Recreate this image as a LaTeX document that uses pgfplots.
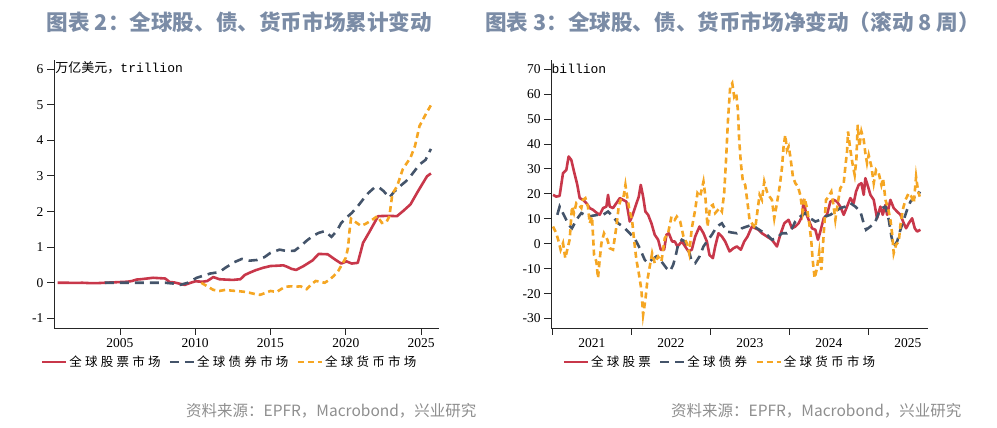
\documentclass[border=0pt]{standalone}
\usepackage{fontspec}
\setmainfont{Liberation Serif}
\setmonofont{Liberation Mono}
\newfontfamily\cjk{Noto Sans CJK SC}
\newfontfamily\cjkwide[LetterSpace=26]{Noto Sans CJK SC}
\usepackage{pgfplots}
\pgfplotsset{compat=1.18}
\definecolor{eqred}{HTML}{C8374A}
\definecolor{bdblue}{HTML}{44546A}
\definecolor{mmorange}{HTML}{F5A623}
\definecolor{titlec}{HTML}{7B8CA6}
\definecolor{srcgray}{HTML}{8E8E8E}
\pgfplotsset{
  myaxis/.style={
    scale only axis,
    axis lines*=left,
    axis line style={black!85, line width=0.9pt, -},
    tick align=outside,
    major tick length=7pt,
    tick style={black!85, line width=0.9pt},
    ticklabel style={font=\fontsize{13.5}{14}\selectfont},
    /pgf/number format/assume math mode=true,
    /pgf/number format/1000 sep={},
    clip=false,
    legend columns=3,
    legend cell align=left,
    legend style={draw=none, fill=none, inner sep=0pt, anchor=west,
      font=\cjkwide\fontsize{12.5}{13}\selectfont,
      /tikz/every even column/.append style={column sep=6pt}},
    legend image code/.code={\draw[##1] (0pt,0pt) -- (24pt,0pt);},
  },
  eq/.style={eqred, line width=2.6pt, line join=round},
  bd/.style={bdblue, line width=2.6pt, dash pattern=on 9pt off 6pt},
  mm/.style={mmorange, line width=2.6pt, dash pattern=on 6pt off 4pt},
}
\begin{document}
\begin{tikzpicture}
\useasboundingbox (0pt,0pt) rectangle (997pt,428pt);
% titles
\node[font=\cjk\bfseries\fontsize{21.6}{23}\selectfont, text=titlec] at (239.5pt,406pt) {图表 2：全球股、债、货币市场累计变动};
\node[font=\cjk\bfseries\fontsize{21.6}{23}\selectfont, text=titlec] at (732.5pt,406pt) {图表 3：全球股、债、货币市场净变动（滚动 8 周）};
% sources
\node[font=\cjk\fontsize{15.5}{16}\selectfont, text=srcgray, anchor=east] at (480pt,17pt) {资料来源：EPFR，Macrobond，兴业研究};
\node[font=\cjk\fontsize{15.5}{16}\selectfont, text=srcgray, anchor=east] at (965pt,17pt) {资料来源：EPFR，Macrobond，兴业研究};

% ---------- left panel ----------
\begin{axis}[myaxis, at={(54pt,100pt)}, anchor=south west,
  width=385pt, height=268pt,
  xmin=2000.615, xmax=2026.196, ymin=-1.27, ymax=6.255,
  xtick={2005,2010,2015,2020,2025},
  ytick={-1,0,1,2,3,4,5,6},
  legend style={at={(-0.035,-0.127)}},
]
\addplot[eq] coordinates {(2000.85,0)(2001.5,0)(2002,-0.005)(2002.5,0)(2003,-0.01)(2003.5,-0.01)(2004,0)(2004.5,0.01)(2005,0.02)(2005.5,0.03)(2005.8,0.05)(2006.1,0.09)(2006.4,0.1)(2006.8,0.12)(2007.2,0.14)(2007.6,0.13)(2008.0,0.12)(2008.3,0.02)(2008.6,0.01)(2009.0,-0.03)(2009.3,-0.06)(2009.7,0.0)(2010.0,0.04)(2010.5,0.03)(2010.8,0.05)(2011.2,0.16)(2011.6,0.1)(2012.0,0.09)(2012.5,0.08)(2013.0,0.1)(2013.3,0.22)(2013.6,0.28)(2014.0,0.35)(2014.5,0.42)(2015.0,0.47)(2015.5,0.48)(2015.85,0.49)(2016.1,0.45)(2016.4,0.39)(2016.7,0.36)(2017.2,0.47)(2017.8,0.63)(2018.2,0.81)(2018.8,0.80)(2019.3,0.65)(2019.7,0.54)(2020.05,0.60)(2020.4,0.54)(2020.8,0.56)(2021.15,1.12)(2021.6,1.45)(2022.15,1.87)(2022.8,1.88)(2023.4,1.87)(2023.8,2.01)(2024.3,2.20)(2024.8,2.57)(2025.4,2.99)(2025.66,3.07)};
\addlegendentry{全球股票市场}
\addplot[bd] coordinates {(2004.0,0)(2005,0)(2006,0)(2007,0)(2008,0)(2008.5,-0.02)(2009,-0.06)(2009.5,0.0)(2010.1,0.14)(2011,0.26)(2011.6,0.30)(2012,0.42)(2012.6,0.58)(2013.1,0.67)(2013.6,0.62)(2014.1,0.64)(2014.6,0.72)(2015,0.84)(2015.6,0.93)(2016.1,0.89)(2016.6,0.90)(2017.0,1.03)(2017.4,1.18)(2017.8,1.31)(2018.2,1.40)(2018.6,1.45)(2019.05,1.29)(2019.4,1.45)(2019.7,1.68)(2020.1,1.85)(2020.4,1.96)(2020.8,2.15)(2021.15,2.34)(2021.5,2.52)(2021.9,2.67)(2022.2,2.68)(2022.5,2.58)(2022.9,2.39)(2023.2,2.55)(2023.6,2.71)(2024.0,2.85)(2024.3,2.99)(2024.9,3.32)(2025.3,3.45)(2025.66,3.76)};
\addlegendentry{全球债券市场}
\addplot[mm] coordinates {(2010.4,0)(2010.8,-0.1)(2011.2,-0.2)(2011.6,-0.23)(2012.0,-0.20)(2012.4,-0.22)(2012.7,-0.23)(2013.2,-0.25)(2013.6,-0.28)(2014.0,-0.32)(2014.3,-0.34)(2014.7,-0.28)(2015.0,-0.23)(2015.4,-0.26)(2015.7,-0.18)(2016.0,-0.11)(2016.4,-0.10)(2016.7,-0.11)(2017.0,-0.10)(2017.4,-0.18)(2017.7,-0.05)(2018.0,0.05)(2018.3,0.03)(2018.6,0.0)(2018.9,0.08)(2019.2,0.19)(2019.5,0.33)(2019.8,0.55)(2020.0,0.70)(2020.15,0.98)(2020.25,1.45)(2020.35,1.80)(2020.6,1.72)(2021.0,1.60)(2021.3,1.65)(2021.7,1.75)(2022.1,1.87)(2022.4,1.68)(2022.7,1.70)(2022.9,1.87)(2023.1,2.50)(2023.4,2.70)(2023.8,3.20)(2024.3,3.51)(2024.6,3.84)(2024.9,4.40)(2025.3,4.72)(2025.65,4.98)};
\addlegendentry{全球货币市场}
\node[anchor=west, inner sep=0pt, font=\fontsize{13}{14}\selectfont] at (axis cs:2000.7,6.03) {\cjk 万亿美元，\ttfamily trillion};
\end{axis}

% ---------- right panel ----------
\begin{axis}[myaxis, at={(551pt,100pt)}, anchor=south west,
  width=376.7pt, height=268pt,
  xmin=2020.984, xmax=2025.752, ymin=-33.8, ymax=73.7,
  xtick={2021,2022,2023,2024,2025},
  xticklabels={},
  extra x ticks={2021.5,2022.5,2023.5,2024.5,2025.5},
  extra x tick labels={2021,2022,2023,2024,2025},
  extra x tick style={tick style={draw=none}},
  ytick={-30,-20,-10,0,10,20,30,40,50,60,70},
  legend style={at={(0.030,-0.127)}},
]
\addplot[eq] coordinates {(2021.009,19.6)(2021.051,18.9)(2021.093,19.2)(2021.136,28.3)(2021.178,29.6)(2021.207,35.0)(2021.241,33.6)(2021.275,29.0)(2021.317,23.6)(2021.347,18.3)(2021.389,17.6)(2021.431,16.3)(2021.474,14.3)(2021.516,13.6)(2021.558,12.5)(2021.600,11.6)(2021.643,14.3)(2021.685,14.9)(2021.706,19.6)(2021.727,14.9)(2021.769,14.3)(2021.812,16.3)(2021.854,18.3)(2021.896,17.6)(2021.938,16.9)(2021.981,8.9)(2022.010,10.9)(2022.052,14.9)(2022.095,18.9)(2022.120,23.6)(2022.150,18.9)(2022.179,12.9)(2022.213,11.6)(2022.255,8.2)(2022.297,3.6)(2022.340,1.6)(2022.373,-2.4)(2022.416,-2.4)(2022.445,3.6)(2022.475,4.2)(2022.517,0.9)(2022.551,0.9)(2022.585,-1.1)(2022.640,0.9)(2022.682,-1.1)(2022.724,-3.1)(2022.766,-2.4)(2022.809,2.9)(2022.864,6.9)(2022.914,4.2)(2022.957,0.9)(2022.990,-4.5)(2023.033,-5.8)(2023.062,-1.1)(2023.104,4.2)(2023.147,2.9)(2023.189,0.9)(2023.244,-3.1)(2023.294,-1.8)(2023.337,-1.1)(2023.387,-2.4)(2023.430,0.9)(2023.472,2.9)(2023.527,6.9)(2023.569,6.2)(2023.611,5.6)(2023.654,4.2)(2023.717,2.9)(2023.780,1.6)(2023.844,-1.1)(2023.886,3.6)(2023.937,8.2)(2023.991,9.6)(2024.034,6.2)(2024.076,6.9)(2024.118,8.2)(2024.161,10.9)(2024.182,17.6)(2024.211,12.3)(2024.245,9.6)(2024.287,6.2)(2024.330,5.6)(2024.363,1.6)(2024.393,4.9)(2024.435,10.2)(2024.477,11.6)(2024.520,16.9)(2024.562,17.6)(2024.604,16.9)(2024.646,14.9)(2024.689,11.6)(2024.731,14.9)(2024.773,18.3)(2024.815,16.3)(2024.845,20.9)(2024.879,23.6)(2024.913,24.3)(2024.942,19.6)(2024.963,26.3)(2024.997,22.9)(2025.027,19.6)(2025.069,17.6)(2025.111,10.2)(2025.153,14.9)(2025.183,11.6)(2025.217,15.6)(2025.238,11.6)(2025.280,17.6)(2025.322,14.3)(2025.365,12.9)(2025.407,11.6)(2025.449,8.2)(2025.479,6.2)(2025.512,8.2)(2025.555,10.2)(2025.588,6.2)(2025.618,4.9)(2025.660,5.6)};
\addlegendentry{全球股票}
\addplot[bd] coordinates {(2021.064,11.6)(2021.093,14.9)(2021.157,10.9)(2021.207,7.6)(2021.250,6.2)(2021.305,9.6)(2021.368,12.3)(2021.452,10.9)(2021.579,11.6)(2021.643,11.6)(2021.706,12.9)(2021.769,10.9)(2021.833,8.2)(2021.896,6.9)(2021.981,4.2)(2022.052,1.6)(2022.107,-1.8)(2022.171,-6.5)(2022.213,-7.8)(2022.255,-6.5)(2022.318,-5.1)(2022.382,-7.1)(2022.445,-9.8)(2022.490,-11.0)(2022.530,-8.5)(2022.560,-5.1)(2022.597,0.2)(2022.640,1.6)(2022.682,0.9)(2022.724,-2.4)(2022.766,-7.1)(2022.809,-7.8)(2022.864,-5.1)(2022.914,-1.1)(2022.957,0.9)(2023.020,3.6)(2023.083,6.9)(2023.147,8.2)(2023.210,4.9)(2023.273,4.5)(2023.337,4.2)(2023.400,6.2)(2023.463,6.9)(2023.527,7.6)(2023.590,6.2)(2023.654,4.9)(2023.717,3.6)(2023.780,1.6)(2023.844,2.3)(2023.907,4.2)(2023.971,4.2)(2024.034,6.2)(2024.076,8.9)(2024.139,10.9)(2024.203,12.3)(2024.266,10.2)(2024.330,8.9)(2024.393,9.6)(2024.456,10.9)(2024.520,11.6)(2024.583,12.9)(2024.646,14.3)(2024.710,14.9)(2024.773,16.3)(2024.836,14.9)(2024.900,12.9)(2024.942,8.2)(2024.972,5.6)(2025.027,6.9)(2025.090,8.9)(2025.132,12.3)(2025.174,14.3)(2025.217,14.9)(2025.259,9.6)(2025.293,2.9)(2025.322,-1.1)(2025.365,0.9)(2025.407,5.6)(2025.449,9.6)(2025.491,13.6)(2025.534,16.9)(2025.576,18.3)(2025.618,20.9)(2025.660,20.2)};
\addlegendentry{全球债券}
\addplot[mm] coordinates {(2021.009,6.9)(2021.051,4.2)(2021.081,0.9)(2021.106,-2.4)(2021.136,0.2)(2021.165,-5.8)(2021.199,-1.1)(2021.220,1.6)(2021.250,14.9)(2021.275,12.3)(2021.305,16.3)(2021.334,15.6)(2021.368,14.3)(2021.389,17.6)(2021.419,18.3)(2021.452,14.9)(2021.474,8.2)(2021.503,10.9)(2021.529,-4.5)(2021.558,-7.1)(2021.579,-13.8)(2021.600,-6.5)(2021.622,0.2)(2021.655,4.2)(2021.698,1.6)(2021.727,-1.8)(2021.769,-2.4)(2021.812,6.9)(2021.841,14.9)(2021.866,17.6)(2021.896,17.6)(2021.926,23.6)(2021.951,18.3)(2021.981,12.9)(2022.010,9.6)(2022.035,1.6)(2022.065,-6.5)(2022.095,-11.8)(2022.128,-18.5)(2022.150,-28.5)(2022.179,-22.5)(2022.205,-14.4)(2022.234,-9.1)(2022.264,-3.8)(2022.297,-7.8)(2022.340,-5.1)(2022.382,-7.1)(2022.424,2.2)(2022.466,4.2)(2022.509,10.9)(2022.551,9.6)(2022.576,10.9)(2022.619,8.9)(2022.661,2.9)(2022.703,0.2)(2022.733,-3.8)(2022.766,6.2)(2022.809,13.6)(2022.838,20.3)(2022.872,18.9)(2022.914,24.9)(2022.936,19.6)(2022.965,6.9)(2022.999,14.9)(2023.033,15.6)(2023.062,12.3)(2023.117,14.3)(2023.147,12.9)(2023.176,20.3)(2023.202,35.0)(2023.223,49.0)(2023.252,63.0)(2023.278,64.4)(2023.303,59.0)(2023.328,60.4)(2023.349,53.7)(2023.366,41.7)(2023.387,32.3)(2023.413,24.9)(2023.442,23.6)(2023.472,16.3)(2023.497,9.6)(2023.527,8.2)(2023.569,6.2)(2023.599,13.6)(2023.624,19.6)(2023.654,17.6)(2023.683,24.9)(2023.717,20.9)(2023.751,18.9)(2023.780,17.6)(2023.810,10.2)(2023.844,16.3)(2023.878,22.9)(2023.907,30.3)(2023.928,39.0)(2023.949,43.6)(2023.971,37.6)(2023.992,39.0)(2024.013,35.0)(2024.046,26.9)(2024.076,24.3)(2024.110,22.9)(2024.139,19.6)(2024.169,12.9)(2024.194,18.3)(2024.224,14.3)(2024.253,8.2)(2024.279,0.9)(2024.296,-6.5)(2024.321,-13.8)(2024.351,-9.8)(2024.380,-3.1)(2024.406,-10.5)(2024.435,3.6)(2024.465,17.6)(2024.498,18.9)(2024.532,20.9)(2024.562,14.9)(2024.583,9.6)(2024.617,16.9)(2024.646,22.3)(2024.689,24.3)(2024.710,31.0)(2024.731,36.9)(2024.744,45.0)(2024.773,37.6)(2024.803,31.6)(2024.828,27.6)(2024.849,33.6)(2024.866,47.7)(2024.887,38.9)(2024.913,45.0)(2024.942,41.7)(2024.963,36.3)(2024.984,32.3)(2025.005,35.6)(2025.039,31.0)(2025.069,24.3)(2025.098,29.6)(2025.132,28.3)(2025.166,23.6)(2025.187,26.2)(2025.217,17.6)(2025.250,14.3)(2025.280,9.6)(2025.301,4.2)(2025.322,-3.8)(2025.352,-0.4)(2025.386,0.9)(2025.407,7.6)(2025.436,13.6)(2025.470,17.6)(2025.512,20.3)(2025.546,18.9)(2025.576,16.3)(2025.605,26.9)(2025.631,20.9)(2025.652,18.9)};
\addlegendentry{全球货币市场}
\node[anchor=west, inner sep=0pt, font=\fontsize{13}{14}\selectfont\ttfamily] at (axis cs:2020.99,70.3) {billion};
\end{axis}
\end{tikzpicture}
\end{document}
